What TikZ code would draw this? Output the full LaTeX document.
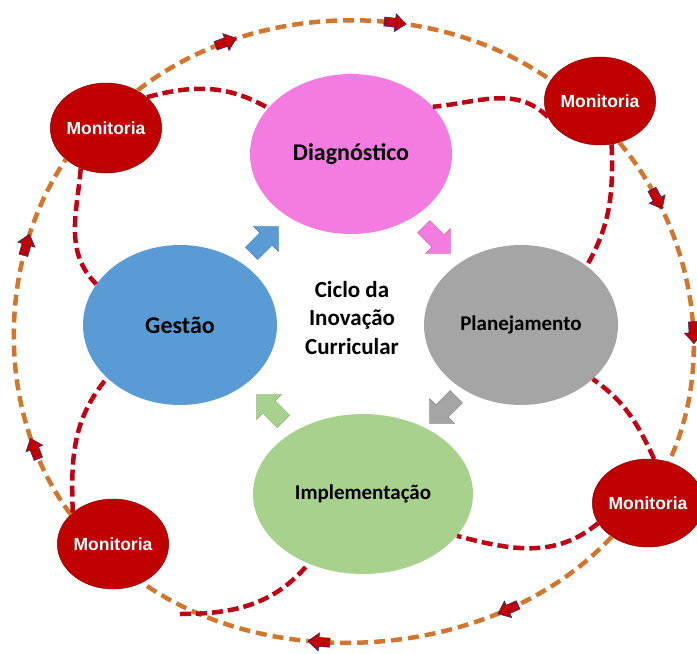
\documentclass[tikz,border=0pt]{standalone}
\usepackage{fontspec}
\setmainfont{Carlito}
\newfontfamily\monfont{Liberation Sans}
\usepackage{tikz}
\usetikzlibrary{shapes.geometric,shapes.arrows,decorations.markings}

\definecolor{diagpink}{RGB}{244,123,223}
\definecolor{gestblue}{RGB}{91,155,213}
\definecolor{plangray}{RGB}{165,165,165}
\definecolor{implgreen}{RGB}{169,209,142}
\definecolor{monred}{RGB}{192,0,0}
\definecolor{orbitorange}{RGB}{208,118,46}
\definecolor{linkred}{RGB}{192,0,20}
\definecolor{tipblue}{RGB}{60,40,110}

% small block arrow sitting on the outer ring
\newcommand{\ringtip}{\filldraw[fill=monred,draw=tipblue,line width=0.6pt,solid]
  (-11,-4.5) -- (0,-4.5) -- (0,-9) -- (11,0) -- (0,9) -- (0,4.5) -- (-11,4.5) -- cycle;}

\tikzset{
  stage/.style={ellipse, minimum width=#1, minimum height=160pt},
  monit/.style={ellipse, fill=monred, draw=monred!70!black, line width=0.5pt,
    text=white, font=\monfont\bfseries\fontsize{17.5}{20}\selectfont},
  flowarrow/.style={single arrow, inner xsep=0pt, inner ysep=8.5pt, minimum height=38pt,
    single arrow head extend=9pt, fill=#1, draw=#1!80!black, line width=0.4pt},
  link/.style={draw=linkred, line width=4.5pt, dash pattern=on 11pt off 5pt},
  ring/.style={draw=orbitorange, line width=4.5pt, dash pattern=on 11pt off 6pt, looseness=0.9},
  ringtips/.style 2 args={postaction={decorate, decoration={markings,
    mark=at position #1 with {\ringtip}, mark=at position #2 with {\ringtip}}}}
}

\begin{document}
\begin{tikzpicture}[x=1pt,y=1pt]
\tikzstyle{every node}+=[inner sep=0pt]
\useasboundingbox (0,0) rectangle (697,-654);

% the four stages
\node [stage=202pt, fill=diagpink, font=\bfseries\fontsize{24}{28}\selectfont] (diag) at (351,-154) {Diagnóstico};
\node [stage=194pt, fill=gestblue, font=\bfseries\fontsize{24}{28}\selectfont] (gest) at (180,-325) {Gestão};
\node [stage=194pt, fill=plangray, font=\bfseries\fontsize{21}{25}\selectfont] (plan) at (521,-325) {Planejamento};
\node [stage=220pt, fill=implgreen, font=\bfseries\fontsize{21}{25}\selectfont] (impl) at (363,-494) {Implementação};
\node [align=center, font=\bfseries\fontsize{23}{28.5}\selectfont] (ciclo) at (352,-318) {Ciclo da\\Inovação\\Curricular};

\node [flowarrow=gestblue, rotate=45] (fa1) at (262,-243) {};
\node [flowarrow=diagpink, rotate=-45] (fa2) at (434,-237) {};
\node [flowarrow=plangray, rotate=-135] (fa3) at (446,-407) {};
\node [flowarrow=implgreen, rotate=135] (fa4) at (273,-411) {};

% monitoring points
\node [monit, minimum width=106pt, minimum height=90pt] (m1) at (106,-128) {Monitoria};
\node [monit, minimum width=97pt, minimum height=88pt] (m2) at (600,-101) {Monitoria};
\node [monit, minimum width=97pt, minimum height=88pt] (m3) at (648,-503) {Monitoria};
\node [monit, minimum width=108pt, minimum height=90pt] (m4) at (113,-544) {Monitoria};
\coordinate (j4) at (180,-614);

% outer ring
\draw [ring, ringtips={0.23}{0.62}] (m1.50) to[out=38,in=145] (m2.157);
\draw [ring, ringtips={0.2}{0.61}] (m2.-65) to[out=-50,in=65] (m3.63);
\draw [ring, ringtips={0.25}{0.63}] (m3.223) to[out=-133,in=-35] (m4.-53);
\draw [ring, ringtips={0.2}{0.75}] (m4.145) to[out=127,in=236] (m1.218);

% links to the stages
\draw [link] (m1.37) to[out=15,in=150] (diag.151);
\draw [link] (m1.238) to[out=-95,in=135] (gest.154);
\draw [link] (m2.197) to[out=135,in=5] (diag.30);
\draw [link] (m2.-75) to[out=-88,in=60] (plan.42);
\draw [link] (m3.82) to[out=115,in=-35] (plan.-37);
\draw [link] (m3.202) to[out=-140,in=-15] (impl.-24);
\draw [link] (m4.142) to[out=92,in=-130] (gest.216);
\draw [link] (j4) to[out=0,in=-130] (impl.232);
\end{tikzpicture}
\end{document}
